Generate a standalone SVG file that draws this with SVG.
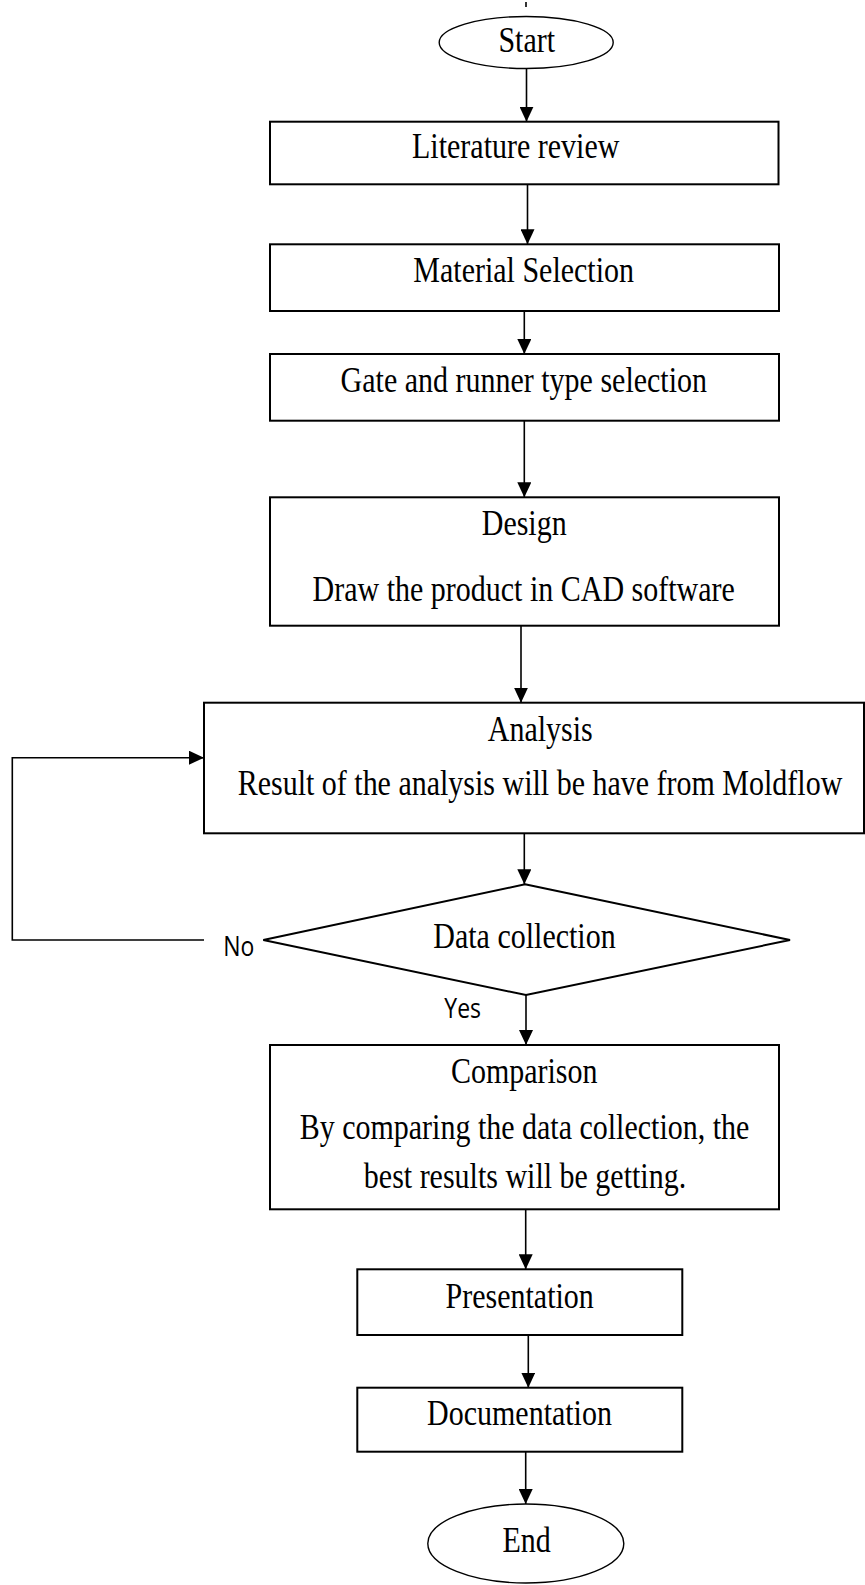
<svg xmlns="http://www.w3.org/2000/svg" width="865" height="1585" viewBox="0 0 865 1585">
<style>
.box{fill:#fff;stroke:#000;stroke-width:2}
.term{fill:#fff;stroke:#000;stroke-width:1.4}
.t{font-family:"Liberation Serif","Times New Roman",serif;font-size:30px;fill:#000;text-anchor:middle}
.s{font-family:"Open Sans","Liberation Sans",sans-serif;font-size:23px;fill:#000}
.c{fill:none;stroke:#000;stroke-width:1.6}
</style>
<defs>
<marker id="ah" markerUnits="userSpaceOnUse" markerWidth="15" markerHeight="14" refX="15" refY="7" orient="auto">
<path d="M0,0 L15,7 L0,14 z" fill="#000"/>
</marker>
</defs>
<rect width="865" height="1585" fill="#fff"/>
<g id="connectors">
<line class="c" x1="526" y1="2" x2="526" y2="7"/>
<line class="c" x1="526.5" y1="68.5" x2="526.5" y2="121.7" marker-end="url(#ah)"/>
<line class="c" x1="527.5" y1="184.3" x2="527.5" y2="244.3" marker-end="url(#ah)"/>
<line class="c" x1="524.3" y1="311" x2="524.3" y2="354" marker-end="url(#ah)"/>
<line class="c" x1="524.3" y1="420.7" x2="524.3" y2="497.3" marker-end="url(#ah)"/>
<line class="c" x1="521" y1="625.7" x2="521" y2="702.7" marker-end="url(#ah)"/>
<line class="c" x1="524.3" y1="833.3" x2="524.3" y2="884.3" marker-end="url(#ah)"/>
<line class="c" x1="526" y1="995" x2="526" y2="1045" marker-end="url(#ah)"/>
<line class="c" x1="525.7" y1="1209.3" x2="525.7" y2="1269.3" marker-end="url(#ah)"/>
<line class="c" x1="528.3" y1="1335" x2="528.3" y2="1387.7" marker-end="url(#ah)"/>
<line class="c" x1="525.7" y1="1451.7" x2="525.7" y2="1504" marker-end="url(#ah)"/>
<polyline class="c" points="204,940 12.3,940 12.3,757.7 204,757.7" marker-end="url(#ah)"/>
<text class="s" transform="translate(223.3,956) scale(1,1.18)">No</text>
<text class="s" transform="translate(444.3,1017.7) scale(1,1.18)">Yes</text>
</g>
<g id="start">
<ellipse class="term" cx="526.2" cy="42.5" rx="87" ry="26"/>
<text class="t" transform="translate(526.7,52.3) scale(1,1.18)">Start</text>
</g>
<g id="literature">
<rect class="box" x="270" y="121.7" width="508.5" height="62.6"/>
<text class="t" transform="translate(515.7,158.3) scale(1,1.18)">Literature review</text>
</g>
<g id="material">
<rect class="box" x="270" y="244.3" width="509" height="66.7"/>
<text class="t" transform="translate(523.7,281.7) scale(1,1.18)">Material Selection</text>
</g>
<g id="gate">
<rect class="box" x="270" y="354" width="509" height="66.7"/>
<text class="t" transform="translate(523.8,391.7) scale(1,1.18)">Gate and runner type selection</text>
</g>
<g id="design">
<rect class="box" x="270" y="497.3" width="509" height="128.4"/>
<text class="t" transform="translate(524.2,535) scale(1,1.18)">Design</text>
<text class="t" transform="translate(523.7,601) scale(1,1.18)">Draw the product in CAD software</text>
</g>
<g id="analysis">
<rect class="box" x="204" y="702.7" width="660" height="130.6"/>
<text class="t" transform="translate(540.3,741) scale(1,1.18)">Analysis</text>
<text class="t" transform="translate(540,795) scale(1,1.18)">Result of the analysis will be have from Moldflow</text>
</g>
<g id="data">
<polygon class="box" points="525,884.3 790,940 526,995 263.3,940"/>
<text class="t" transform="translate(524.5,948.3) scale(1,1.18)">Data collection</text>
</g>
<g id="comparison">
<rect class="box" x="270" y="1045" width="509" height="164.3"/>
<text class="t" transform="translate(524.2,1083.3) scale(1,1.18)">Comparison</text>
<text class="t" transform="translate(524.5,1139.3) scale(1,1.18)">By comparing the data collection, the</text>
<text class="t" transform="translate(525,1188.3) scale(1,1.18)">best results will be getting.</text>
</g>
<g id="presentation">
<rect class="box" x="357.3" y="1269.3" width="325" height="65.7"/>
<text class="t" transform="translate(519.7,1308) scale(1,1.18)">Presentation</text>
</g>
<g id="documentation">
<rect class="box" x="357.3" y="1387.7" width="325" height="64"/>
<text class="t" transform="translate(519.5,1425) scale(1,1.18)">Documentation</text>
</g>
<g id="end">
<ellipse class="term" cx="525.8" cy="1543.5" rx="98" ry="39.5"/>
<text class="t" transform="translate(526.7,1551.7) scale(1,1.18)">End</text>
</g>
</svg>
